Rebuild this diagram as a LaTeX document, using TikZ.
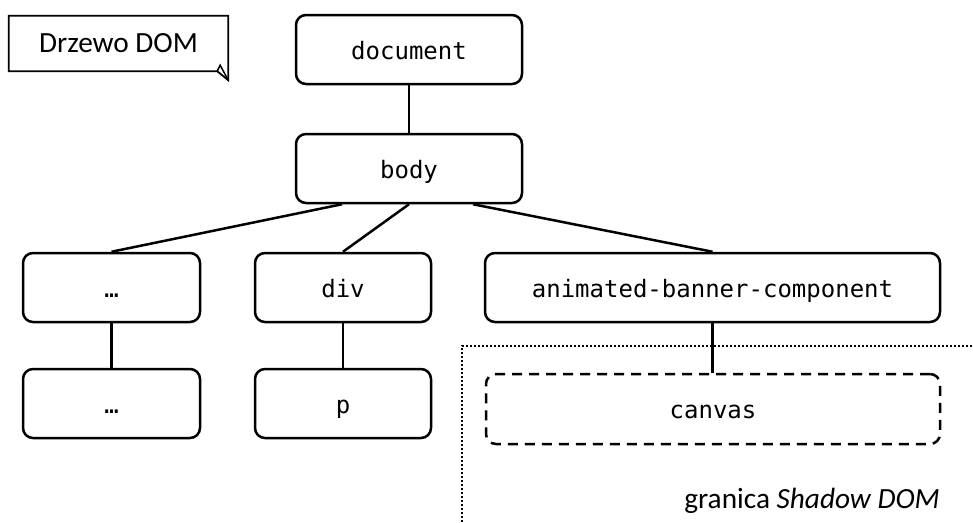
\documentclass[tikz,border=0pt]{standalone}
\usepackage{fontspec}
\setmainfont{Carlito}
\newfontfamily\monof{DejaVu Sans Mono}
\begin{document}
\begin{tikzpicture}[x=1pt,y=-1pt,
  box/.style={draw, line width=2.5pt, rounded corners=10pt, minimum height=69pt, inner sep=0pt,
    text height=22pt, text depth=3pt, font=\monof\fontsize{24}{28}\selectfont},
  dbox/.style={box, dashed, dash pattern=on 10pt off 7pt},
  conn/.style={line width=2.5pt},
  border/.style={line width=2.2pt, dash pattern=on 2pt off 2pt},
  lbl/.style={font=\fontsize{29.3}{35}\selectfont, inner sep=0pt}]
\useasboundingbox (0,0) rectangle (973,522);
% note
\node[lbl, minimum width=219pt, minimum height=55pt] (note) at (118.5,43.5) {Drzewo DOM};
\draw[line width=1.8pt, line join=miter] (note.north west) -- (note.north east) -- ([yshift=-9pt]note.south east) -- ([xshift=-11pt]note.south east) -- (note.south west) -- cycle;
\draw[line width=1.5pt] ([xshift=-11pt]note.south east) -- ([xshift=-8pt,yshift=6pt]note.south east) -- ([yshift=-9pt]note.south east);
% nodes
\node[box, minimum width=226pt] (doc) at (409,49.5) {document};
\node[box, minimum width=226pt] (body) at (409,168.5) {body};
\node[box, minimum width=177pt] (dots1) at (111.5,287.5) {…};
\node[box, minimum width=176pt] (div) at (343,287.5) {div};
\node[box, minimum width=455pt] (anim) at (712.5,287.5) {animated-banner-component};
\node[box, minimum width=177pt] (dots2) at (111.5,403.5) {…};
\node[box, minimum width=176pt] (p) at (343,403.5) {p};
\node[dbox, minimum width=454pt, minimum height=70pt] (canvas) at (713,409) {canvas};
% connectors
\draw[conn] (doc.south) -- (body.north);
\draw[conn] ([xshift=-67pt]body.south) -- (dots1.north);
\draw[conn] (body.south) -- (div.north);
\draw[conn] ([xshift=64pt]body.south) -- (anim.north);
\draw[conn] (dots1.south) -- (dots2.north);
\draw[conn] (div.south) -- (p.north);
\draw[conn] (anim.south) -- (anim.south |- canvas.north);
% shadow DOM border
\coordinate (bl) at (462,522);
\coordinate (tl) at (462,346);
\coordinate (tr) at (973,346);
\draw[border] (bl) -- (tl) -- (tr);
\node[lbl, anchor=base east] (gr) at (940,508) {granica \textit{Shadow DOM}};
\end{tikzpicture}
\end{document}
